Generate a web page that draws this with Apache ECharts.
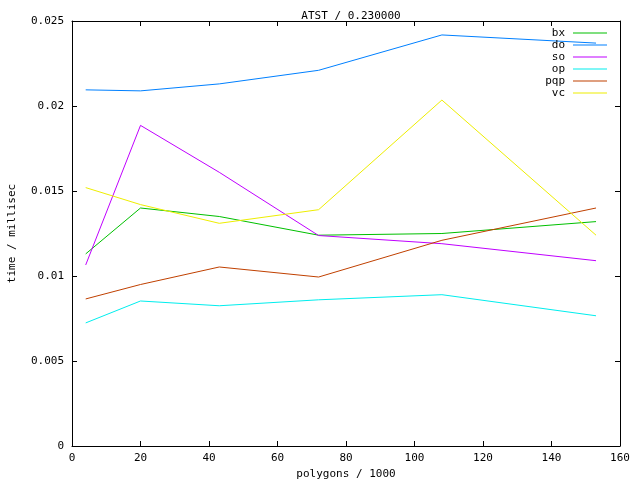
<!DOCTYPE html>
<html>
<head>
<meta charset="utf-8">
<script src="https://cdn.jsdelivr.net/npm/echarts@6/dist/echarts.min.js"></script>
<style>
  html, body { margin: 0; padding: 0; background: #fff; }
  #chart { width: 640px; height: 480px; }
</style>
</head>
<body>
<div id="chart"></div>
<script>
// polygons / 1000
const polygons = [4, 20, 43, 72, 108, 153]

// time / millisec per method
const bx = [0.0113, 0.0140, 0.0135, 0.0124, 0.0125, 0.0132]
const doTimes = [0.02095, 0.02089, 0.0213, 0.0221, 0.02418, 0.0237]
const so = [0.01065, 0.01886, 0.0161, 0.01238, 0.0119, 0.0109]
const op = [0.00724, 0.00853, 0.00825, 0.0086, 0.0089, 0.00766]
const pqp = [0.00865, 0.0095, 0.01053, 0.00994, 0.0121, 0.0140]
const vc = [0.0152, 0.0142, 0.0131, 0.0139, 0.02035, 0.0124]

const seriesNames = ['bx', 'do', 'so', 'op', 'pqp', 'vc']
const seriesValues = [bx, doTimes, so, op, pqp, vc]
const colors = ['#00c000', '#0080ff', '#c000ff', '#00eeee', '#c04000', '#eeee00']

const font = 'DejaVu Sans Mono'

const chart = echarts.init(document.getElementById('chart'))

const series = seriesNames.map((name, i) => ({
  name,
  type: 'line',
  data: polygons.map((x, j) => [x, seriesValues[i][j]]),
  symbol: 'none',
  lineStyle: { color: colors[i], width: 1 },
  itemStyle: { color: colors[i] },
  animation: false
}))

const axisLine = { show: true, onZero: false, lineStyle: { color: '#000', width: 1 } }
const axisTick = { show: true, inside: true, length: 5, lineStyle: { color: '#000' } }

chart.setOption({
  backgroundColor: '#fff',
  animation: false,
  textStyle: { fontFamily: font },
  title: {
    text: 'ATST / 0.230000',
    left: 346,
    textAlign: 'center',
    top: 6,
    textStyle: { fontFamily: font, fontSize: 11, fontWeight: 'normal', color: '#000' }
  },
  legend: {
    orient: 'vertical',
    right: 33,
    top: 27,
    padding: 0,
    align: 'right',
    icon: 'rect',
    itemWidth: 34,
    itemHeight: 1,
    itemGap: 0,
    textStyle: { fontFamily: font, fontSize: 11, lineHeight: 12, color: '#000', padding: [0, 3, 0, 0] },
    data: seriesNames
  },
  grid: { left: 72, right: 20, top: 21, bottom: 34, containLabel: false, outerBoundsMode: 'none' },
  xAxis: [{
    type: 'value',
    min: 0,
    max: 160,
    interval: 20,
    name: 'polygons / 1000',
    nameLocation: 'middle',
    nameGap: 22,
    nameTextStyle: { fontFamily: font, fontSize: 11, color: '#000' },
    axisLine,
    axisTick,
    axisLabel: { color: '#000', fontFamily: font, fontSize: 11, margin: 7 },
    splitLine: { show: false }
  }, {
    type: 'value',
    position: 'top',
    min: 0,
    max: 160,
    interval: 20,
    axisLine,
    axisTick,
    axisLabel: { show: false },
    splitLine: { show: false }
  }],
  yAxis: [{
    type: 'value',
    min: 0,
    max: 0.025,
    interval: 0.005,
    name: 'time / millisec',
    nameLocation: 'middle',
    nameGap: 54,
    nameTextStyle: { fontFamily: font, fontSize: 11, color: '#000' },
    axisLine,
    axisTick,
    axisLabel: { color: '#000', fontFamily: font, fontSize: 11, margin: 8 },
    splitLine: { show: false }
  }, {
    type: 'value',
    position: 'right',
    min: 0,
    max: 0.025,
    interval: 0.005,
    axisLine,
    axisTick,
    axisLabel: { show: false },
    splitLine: { show: false }
  }],
  series
})
</script>
</body>
</html>
